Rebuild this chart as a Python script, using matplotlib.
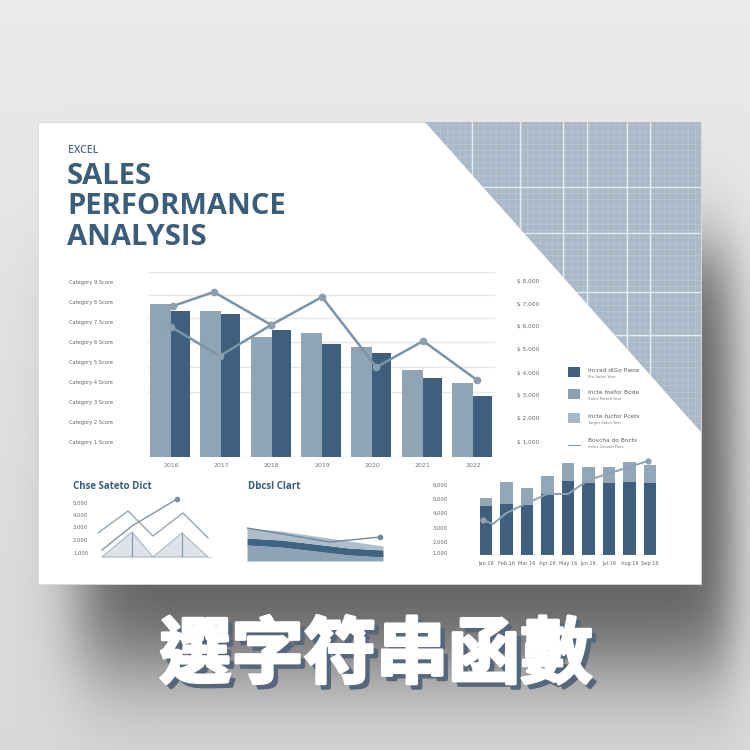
import numpy as np
import matplotlib
matplotlib.use("Agg")
import matplotlib.pyplot as plt
import matplotlib.patheffects as pe
from matplotlib.patches import Rectangle, Polygon

# ---------------- data ----------------
years = ["2016", "2017", "2018", "2019", "2020", "2021", "2022"]
light_vals = [82.7, 79.1, 64.9, 67.0, 59.5, 47.0, 40.0]
dark_vals = [78.9, 77.3, 68.6, 61.1, 56.2, 42.7, 33.0]
line1_x = [0.04, 0.85, 1.99, 3.0, 4.08, 5.01, 6.08]
line1_y = [81.6, 89.2, 71.4, 86.5, 48.6, 62.7, 41.6]
line2_x = [0.0, 0.97, 1.99]
line2_y = [70.3, 54.6, 71.4]
left_labels = ["Category 9 Score", "Category 8 Score", "Category 7 Score", "Category 6 Score",
               "Category 5 Score", "Category 4 Score", "Category 3 Score", "Category 2 Score",
               "Category 1 Score"]
left_label_vals = [94.5, 83.7, 72.9, 62.1, 51.3, 40.5, 29.7, 18.9, 8.1]
right_labels = ["$ 8,000", "$ 7,000", "$ 6,000", "$ 5,000", "$ 4,000", "$ 3,000", "$ 2,000", "$ 1,000"]
right_label_vals = [95.1, 82.7, 70.8, 58.4, 45.4, 33.5, 21.1, 8.1]
grid_vals = [35, 48.5, 62, 75, 87.5, 100]

# small chart A (line / mountain)
mount_x = [[0.58, 3.08, 4.83], [4.83, 7.25, 9.42]]
mount_y = [[0.46, 4.31, 0.46], [0.46, 4.15, 0.46]]
a_line1_x = [0.25, 2.75, 4.83, 7.33, 9.42]
a_line1_y = [4.15, 7.54, 3.69, 7.23, 3.38]
a_line2_x = [0.58, 3.08, 6.83]
a_line2_y = [1.54, 5.23, 9.38]
a_ylabels = ["5,000", "4,000", "3,000", "2,000", "1,000"]
a_yvals = [8.77, 6.92, 5.08, 3.08, 1.08]

# small chart B (area)
b_x = [0, 2.5, 5, 7.5, 10]
b_bottom = [0.24, 0.24, 0.24, 0.24, 0.24]
b_dark_bot = [4.05, 3.57, 2.62, 1.67, 1.19]
b_dark_top = [5.71, 5.24, 4.29, 3.33, 2.86]
b_fill_top = [8.10, 7.38, 6.19, 5.00, 3.81]
b_line_x = [0, 6.1, 9.8]
b_line_y = [8.10, 4.76, 5.95]

# small chart C (stacked bars)
c_labels = ["Jan 16", "Feb 16", "Mar 16", "Apr 16", "May 16", "Jun 16", "Jul 16", "Aug 16", "Sep 16"]
c_dark = [49, 51, 50, 61, 74, 72, 72, 73, 72]
c_total = [57, 73, 67, 79, 92, 88, 88, 93, 90]
c_line_x = [-0.15, 0.34, 1.0, 2.0, 3.0, 4.0, 5.0, 7.9]
c_line_y = [35, 31, 42, 52, 61, 61, 75, 94]
c_ylabels = ["6,000", "5,000", "4,000", "3,000", "2,000", "1,000"]
c_yvals = [70, 56, 42, 27, 13, 2]

legend_labels = ["Incrad diGo Pwne", "Incte foefor Bode", "Incte fucfor Pcets", "Bovcha do Bncts"]
legend_sub = ["Pro Sales Year", "Sales Period Year", "Target Sales Year", "Sales Growth Rate"]

DARK = "#3e5f7d"
LIGHT = "#8fa4b4"
MID = "#8aa0b2"
PALE = "#a6b7c6"
TXT = "#3b5d7c"

W = H = 750
fig = plt.figure(figsize=(7.5, 7.5), dpi=100)

# ---------------- background ----------------
bg = fig.add_axes([0, 0, 1, 1])
bg.set_xlim(0, W)
bg.set_ylim(H, 0)
bg.axis("off")
yy, xx = np.mgrid[0:H, 0:W].astype(float)
base = 0.92 - 0.07 * yy / H
def step(v, a, w):
    return 0.5 * (1 + np.tanh((v - a) / w))
sh = step(xx, 80, 35) * (1 - step(xx, 730, 25)) * step(yy, 250, 50) * (1 - step(yy, 665, 60))
val = base - 0.5 * sh
img = np.dstack([val, val, val])
bg.imshow(img, extent=[0, W, H, 0], aspect="auto", zorder=0)

# card
bg.add_patch(Rectangle((38, 122), 663, 462, facecolor="white", edgecolor="#d8d8d8", lw=0.6, zorder=1))
# grid triangle
tri = Polygon([(425, 122), (701, 122), (701, 432)], closed=True, facecolor="#a9b9c8", edgecolor="none", zorder=2)
bg.add_patch(tri)
for gx in np.arange(428, 701, 6.2):
    l = bg.plot([gx, gx], [122, 432], color="#b9c6d2", lw=0.5, zorder=3)[0]
    l.set_clip_path(tri)
for gy in np.arange(125, 432, 6.2):
    l = bg.plot([425, 701], [gy, gy], color="#b9c6d2", lw=0.5, zorder=3)[0]
    l.set_clip_path(tri)
for gx in [472, 520, 563, 587, 627, 650]:
    l = bg.plot([gx, gx], [122, 432], color="#e6ecf1", lw=1.0, zorder=4)[0]
    l.set_clip_path(tri)
for gy in [187, 233, 292, 335]:
    l = bg.plot([425, 701], [gy, gy], color="#e6ecf1", lw=1.0, zorder=4)[0]
    l.set_clip_path(tri)

# titles
tf = ["Open Sans", "DejaVu Sans"]
bg.text(68, 153, "EXCEL", fontsize=7.5, color="#4f6b85", family=tf, weight="semibold", va="baseline", zorder=5)
bg.text(67, 184, "SALES", fontsize=21, color=TXT, family=tf, weight="bold", va="baseline", zorder=5)
bg.text(67, 214.5, "PERFORMANCE", fontsize=21, color=TXT, family=tf, weight="bold", va="baseline", zorder=5)
bg.text(67, 245, "ANALYSIS", fontsize=21, color=TXT, family=tf, weight="bold", va="baseline", zorder=5)

bg.text(73, 489, "Chse Sateto Dict", fontsize=7, color=TXT, family=tf, weight="bold", va="baseline", zorder=5)
bg.text(248, 489, "Dbcsl Clart", fontsize=7, color=TXT, family=tf, weight="bold", va="baseline", zorder=5)

# legend
leg_y = [372, 394, 418]
leg_c = [DARK, MID, PALE]
for i in range(3):
    bg.add_patch(Rectangle((568, leg_y[i] - 5), 12, 10, facecolor=leg_c[i], edgecolor="none", zorder=5))
bg.plot([568, 580], [445, 445], color=MID, lw=0.8, zorder=5)
for i, yv in enumerate(leg_y + [442]):
    bg.text(588, yv - 1, legend_labels[i], fontsize=4.2, color="#555f6a", va="center", zorder=5)
    bg.text(588, yv + 5, legend_sub[i], fontsize=2.8, color="#777f88", va="center", zorder=5)

# big CJK title with shadow (path effects)
cjk = ["Noto Sans CJK TC", "Noto Sans CJK SC", "DejaVu Sans"]
title = "選字符串函數"
shadow_col = "#56677c"
effects = [pe.SimplePatchShadow(offset=(o[0], o[1]), shadow_rgbFace=shadow_col, alpha=1.0)
           for o in [(2.5, -2.5), (3.5, -3.5), (4.2, -3.0), (3.0, -4.2), (4.0, -4.0)]]
effects += [pe.Stroke(linewidth=2.2, foreground="white"), pe.Normal()]
bg.text(376, 656, title, fontsize=52, color="white", family=cjk, weight="black",
        ha="center", va="center", zorder=6, path_effects=effects)


def px_axes(x0, y0, x1, y1):
    a = fig.add_axes([x0 / W, 1 - y1 / H, (x1 - x0) / W, (y1 - y0) / H])
    a.patch.set_alpha(0)
    for s in a.spines.values():
        s.set_visible(False)
    return a

# ---------------- main chart ----------------
ax = px_axes(148, 272, 495, 457)
ax.set_xlim(-0.457, 6.437)
ax.set_ylim(0, 100)
for g in grid_vals:
    ax.axhline(g, color="#e4e7eb", lw=1.0, zorder=0)
ax.axhline(0, color="#e0e3e6", lw=1.0, zorder=0)
xs = np.arange(len(years))
ax.bar(xs, light_vals, width=-0.42, align="edge", color=LIGHT, zorder=2)
ax.bar(xs, dark_vals, width=0.38, align="edge", color=DARK, zorder=2)
ax.plot(line1_x, line1_y, color="#7b93a6", lw=1.8, marker="o", ms=4.5, mfc="#8aa0b1", mec="#8aa0b1", zorder=3)
ax.plot(line2_x, line2_y, color="#7b93a6", lw=1.8, marker="o", ms=4.5, mfc="#8aa0b1", mec="#8aa0b1", zorder=3)
ax.set_xticks(xs)
ax.set_xticklabels(years, fontsize=4.5, color="#777")
ax.set_yticks(left_label_vals)
ax.set_yticklabels(left_labels, fontsize=3.7, color="#666")
ax.tick_params(axis="both", length=0)
ax.tick_params(axis="y", pad=25)
ax.tick_params(axis="x", pad=4)
axr = ax.twinx()
axr.set_ylim(0, 100)
axr.set_yticks(right_label_vals)
axr.set_yticklabels(right_labels, fontsize=4.2, color="#666")
axr.tick_params(axis="y", length=0, pad=16)
for s in axr.spines.values():
    s.set_visible(False)

# ---------------- chart A ----------------
aa = px_axes(95, 495, 215, 560)
aa.set_xlim(0, 10)
aa.set_ylim(0, 10)
for mx, my in zip(mount_x, mount_y):
    aa.fill(mx, my, color="#dde3e9", edgecolor="#a9b6c2", lw=0.8, zorder=1)
    aa.plot([mx[1], mx[1]], [my[1], my[0]], color="#8d9cab", lw=0.9, zorder=2)
aa.axhline(0.46, xmin=0.05, xmax=0.97, color="#cfd6dc", lw=0.8)
aa.plot(a_line1_x, a_line1_y, color="#97a5b2", lw=1.0, zorder=3)
aa.plot(a_line2_x, a_line2_y, color="#8393a3", lw=1.0, zorder=3)
aa.plot(a_line2_x[-1], a_line2_y[-1], "o", color="#7d8fa0", ms=3, zorder=4)
aa.set_xticks([])
aa.set_yticks(a_yvals)
aa.set_yticklabels(a_ylabels, fontsize=3.8, color="#666")
aa.tick_params(axis="y", length=0, pad=5)

# ---------------- chart B ----------------
ab = px_axes(247, 520, 383, 562)
ab.set_xlim(0, 10)
ab.set_ylim(0, 10)
ab.fill_between(b_x, b_bottom, b_dark_bot, color="#8ea4b6", lw=0)
ab.fill_between(b_x, b_dark_bot, b_dark_top, color="#3f6482", lw=0)
ab.fill_between(b_x, b_dark_top, b_fill_top, color="#aebdca", lw=0)
ab.plot(b_line_x, b_line_y, color="#6f879b", lw=1.0)
ab.plot(b_line_x[-1], b_line_y[-1], "o", color="#6f879b", ms=3)
ab.set_xticks([])
ab.set_yticks([])

# ---------------- chart C ----------------
ac = px_axes(478, 455, 660, 555)
ac.set_xlim(-0.39, 8.49)
ac.set_ylim(0, 100)
cx = np.arange(len(c_labels))
ac.bar(cx, c_dark, width=0.6, color=DARK, zorder=2)
ac.bar(cx, np.array(c_total) - np.array(c_dark), bottom=c_dark, width=0.6, color="#92a7b8", zorder=2)
ac.axhline(0, color="#dde2e6", lw=0.8)
ac.plot(c_line_x, c_line_y, color="#8ea2b3", lw=1.4, zorder=3)
ac.plot([c_line_x[0], c_line_x[-1]], [c_line_y[0], c_line_y[-1]], "o", color="#8ea2b3", ms=3.5, zorder=4)
ac.set_xticks(cx)
ac.set_xticklabels(c_labels, fontsize=3.6, color="#666")
ac.set_yticks(c_yvals)
ac.set_yticklabels(c_ylabels, fontsize=3.8, color="#666")
ac.tick_params(axis="both", length=0)
ac.tick_params(axis="y", pad=22)
ac.tick_params(axis="x", pad=4)

fig.savefig("out.png", dpi=100)
